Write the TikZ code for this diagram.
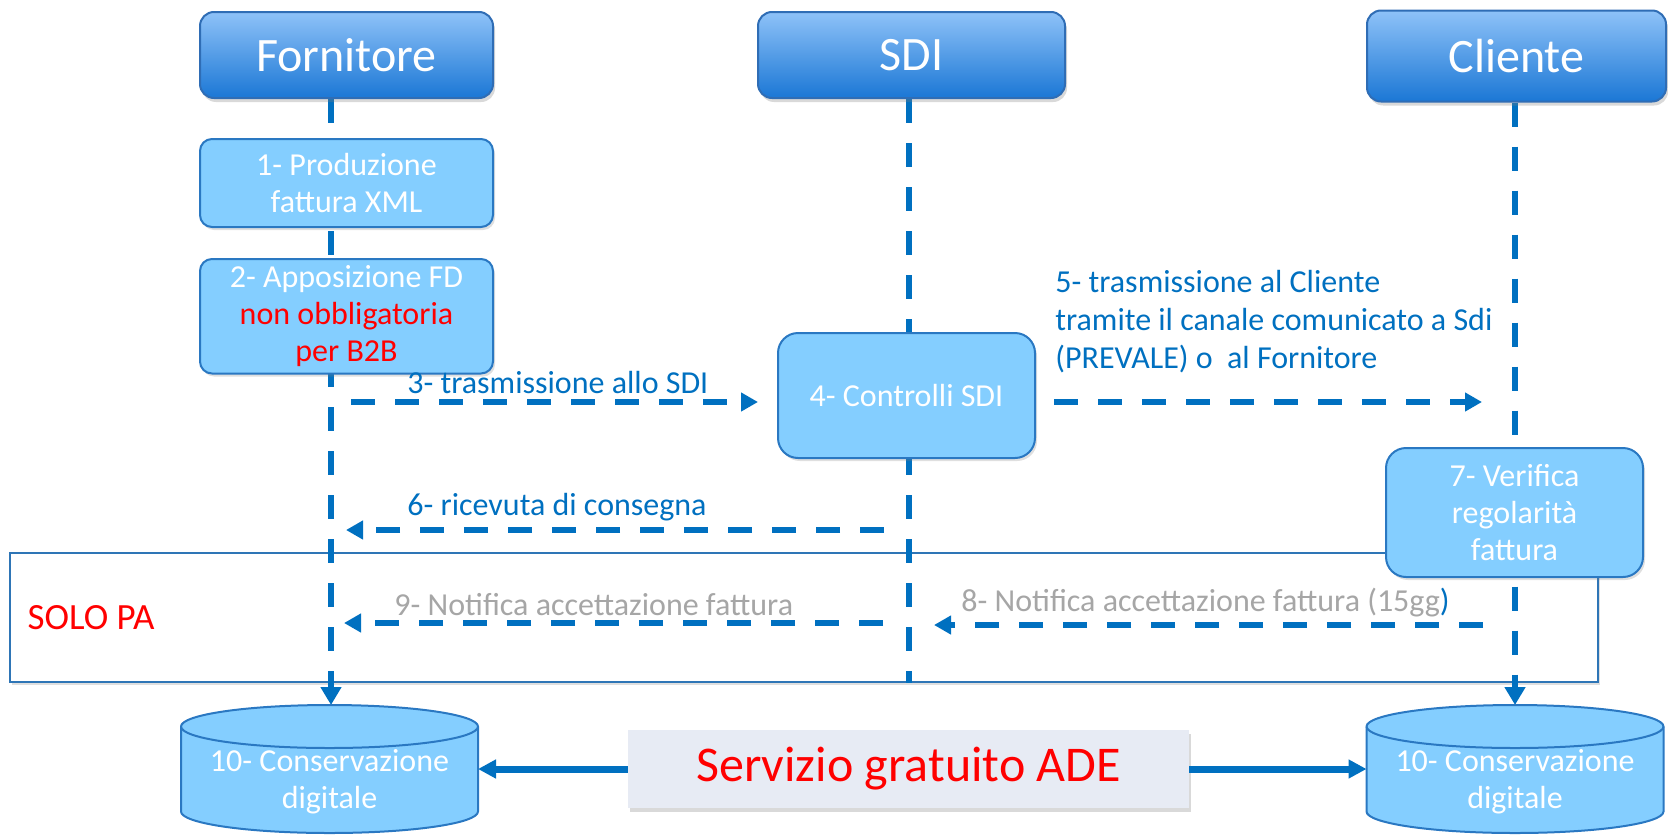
\documentclass[tikz,border=0pt]{standalone}
\usepackage{fontspec}
\setmainfont{Carlito}
\usetikzlibrary{positioning, arrows.meta, shadows}
\usepackage{xcolor}

\definecolor{lineblue}{HTML}{0070C0}
\definecolor{headtop}{HTML}{8EC2F8}
\definecolor{headbot}{HTML}{1B77D5}
\definecolor{headline}{HTML}{2F6DB5}
\definecolor{procfill}{HTML}{84CEFF}
\definecolor{procline}{HTML}{2A78C2}
\definecolor{adefill}{HTML}{E7EBF4}
\definecolor{notegray}{HTML}{A6A6A6}
\definecolor{frameblue}{HTML}{2E75B6}
\definecolor{alertred}{HTML}{FF0000}

\pgfdeclarelayer{back}
\pgfsetlayers{back,main}

\begin{document}
\begin{tikzpicture}[x=0.5pt, y=-0.5pt, >={Triangle[length=8.5pt, width=9pt]},
    actor/.style={draw=headline, line width=1pt, rounded corners=7pt, top color=headtop, bottom color=headbot,
        text=white, font=\fontsize{24}{28}\selectfont, minimum height=43pt,
        drop shadow={opacity=0.3, shadow xshift=1pt, shadow yshift=-2pt}},
    process/.style={draw=procline, line width=1pt, rounded corners=6pt, fill=procfill, text=white, align=center,
        font=\fontsize{16}{18.5}\selectfont, minimum width=146.5pt,
        drop shadow={opacity=0.25, shadow xshift=1pt, shadow yshift=-1.5pt}},
    archive/.style={outer sep=0pt, text=white, align=center, font=\fontsize{16}{18.5}\selectfont, text height=42pt,
        minimum width=148.5pt, minimum height=64pt},
    lifeline/.style={lineblue, line width=3pt, dash pattern=on 12pt off 10pt},
    msg/.style={lifeline, ->},
    note/.style={font=\fontsize{16}{19}\selectfont, inner sep=0pt, anchor=base west},
]
    \useasboundingbox (0,0) rectangle (1668,835);

    % Actors
    \node[actor, minimum width=146.5pt] (forn) at (346.5,55) {Fornitore};
    \node[actor, minimum width=153.5pt] (sdi) at (911.5,55) {SDI};
    \node[actor, minimum width=149.5pt, minimum height=45.5pt] (cli) at (1516.5,56) {Cliente};

    % Steps
    \node[process, minimum height=44pt, below=19.5pt of forn] (prod) {1- Produzione\\fattura XML};
    \node[process, minimum height=51.5pt, below=15pt of prod] (firma) {2- Apposizione FD\\{\color{alertred}non obbligatoria}\\{\color{alertred}per B2B}};
    \node[process, minimum width=128.5pt, minimum height=62.5pt, rounded corners=10pt] (ctrl) at (906.5,395.5) {4- Controlli SDI};
    \node[process, minimum width=128.5pt, minimum height=64.5pt, rounded corners=10pt] (verif) at (1514.5,512.5) {7- Verifica\\regolarità\\fattura};

    % Storage and ADE service
    \node[archive] (consF) at (329.5,769) {10- Conservazione\\digitale};
    \node[archive] (consC) at (1515,769) {10- Conservazione\\digitale};
    \node[fill=adefill, minimum width=280.5pt, minimum height=39pt, text=alertred, font=\fontsize{25}{30}\selectfont,
        drop shadow={opacity=0.3, shadow xshift=1pt, shadow yshift=-2pt}] (ade) at (908.5,769) {Servizio gratuito ADE};

    % Lifelines
    \coordinate (lf) at (331,0);
    \coordinate (ls) at (909,0);
    \coordinate (lc) at (1515,0);
    \begin{pgfonlayer}{back}
        \node[draw=frameblue, line width=0.8pt, fill=white, minimum width=794pt, minimum height=64.5pt,
            drop shadow={opacity=0.25, shadow xshift=1pt, shadow yshift=-1.5pt}] (pa) at (804,617.5) {};
        \draw[lifeline, -{Triangle[length=9pt, width=10pt]}] (forn.south -| lf) -- (consF.north -| lf);
        \draw[lifeline] (sdi.south -| ls) -- (pa.south -| ls);
        \draw[lifeline, -{Triangle[length=9pt, width=10pt]}] (cli.south -| lc) -- (consC.north -| lc);
        % cylinders behind the storage text
        \foreach \c in {consF, consC} {
            \draw[procline, line width=1pt, fill=procfill] ([yshift=-10.75pt]\c.north west) -- ([yshift=10.75pt]\c.south west)
                arc[start angle=180, end angle=360, x radius=74.25pt, y radius=10.75pt]
                -- ([yshift=-10.75pt]\c.north east)
                arc[start angle=0, end angle=180, x radius=74.25pt, y radius=10.75pt] -- cycle;
            \draw[procline, line width=1pt] ([yshift=-10.75pt]\c.north west)
                arc[start angle=180, end angle=360, x radius=74.25pt, y radius=10.75pt];
        }
    \end{pgfonlayer}
    \node[text=alertred, font=\fontsize{18.5}{22}\selectfont, inner sep=0pt, right=9pt of pa.west] (palbl) {SOLO PA};

    % Messages
    \coordinate (f3) at (331,402);
    \coordinate (c5) at (1515,402);
    \coordinate (s6) at (909,530);
    \coordinate (c8) at (1515,625);
    \coordinate (s9) at (909,623);
    \draw[msg, shorten <=10pt, shorten >=9.5pt] (f3) -- (f3 -| ctrl.west);
    \draw[msg, shorten <=9pt, shorten >=16.5pt] (c5 -| ctrl.east) -- (c5);
    \draw[msg, shorten <=12.5pt, shorten >=7.5pt] (s6) -- (s6 -| lf);
    \draw[msg, shorten <=16pt, shorten >=12.5pt] (c8) -- (c8 -| ls);
    \draw[msg, shorten <=13pt, shorten >=6.5pt] (s9) -- (s9 -| lf);
    \draw[lineblue, line width=3.5pt, -{Triangle[length=9pt, width=9pt]}] (ade) -- (consF);
    \draw[lineblue, line width=3.5pt, -{Triangle[length=9pt, width=9pt]}] (ade) -- (consC);

    % Labels
    \node[note, text=lineblue] (l3) at (407,393) {3- trasmissione allo SDI};
    \node[note, text=lineblue, align=left] (l5) at (1055,368) {5- trasmissione al Cliente\\tramite il canale comunicato a Sdi\\(PREVALE) o \ al Fornitore};
    \node[note, text=lineblue] (l6) at (407,515) {6- ricevuta di consegna};
    \node[note, text=notegray] (l9) at (394,615) {9- Notifica accettazione fattura};
    \node[note, text=notegray] (l8) at (961,611) {8- Notifica accettazione fattura (15gg\textcolor{lineblue}{)}};
\end{tikzpicture}
\end{document}
